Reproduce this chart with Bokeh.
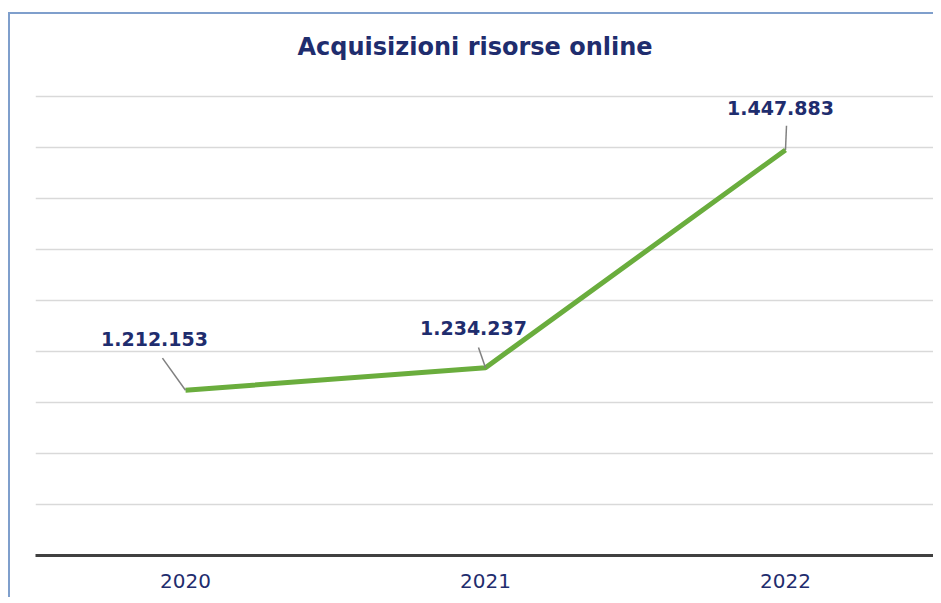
from bokeh.plotting import figure
from bokeh.models import ColumnDataSource, SingleIntervalTicker, FixedTicker, Range1d
from bokeh.embed import file_html
from bokeh.resources import INLINE
from bokeh.core.properties import value

# ---- data ----
years = ["2020", "2021", "2022"]
acquisizioni = [1212153, 1234237, 1447883]
value_labels = ["1.212.153", "1.234.237", "1.447.883"]
title_text = "Acquisizioni risorse online"

# ---- style: label / leader offsets in pixels (screen, negative = up/left) ----
label_dx = [-31, -12, -5]
label_dy = [-51, -40, -42]
leader_dx = [-23, -7, 1]
leader_dy = [-32, -20, -24]

NAVY = "#1f2d6e"
GREEN = "#6aad3d"

y_start, y_end = 1050000, 1515000
frame_w, frame_h = 898, 472
x_start, x_end = -0.5, len(years) - 0.5
px_x = (x_end - x_start) / frame_w
px_y = (y_end - y_start) / frame_h

xs = list(range(len(years)))
src = ColumnDataSource(dict(
    x=xs, y=acquisizioni, label=value_labels,
    dx=label_dx, dy=label_dy,
    x0=[x + d * px_x for x, d in zip(xs, leader_dx)],
    y0=[v - d * px_y for v, d in zip(acquisizioni, leader_dy)],
))

p = figure(width=925, height=585, output_backend="svg", toolbar_location=None,
           x_range=Range1d(x_start, x_end), y_range=Range1d(y_start, y_end),
           y_axis_location=None,
           min_border_left=25, min_border_right=0,
           min_border_top=67, min_border_bottom=44,
           background_fill_color="white", border_fill_color="white")
p.styles = {"margin-top": "12px", "margin-left": "8px",
            "border-left": "2px solid #7f9fcc",
            "border-top": "2px solid #7f9fcc"}
p.outline_line_color = None

p.title.text = title_text
p.title.align = "left"
p.title.offset = 262
p.title.vertical_align = "top"
p.title.text_font = "DejaVu Sans"
p.title.text_font_size = "24px"
p.title.text_font_style = "bold"
p.title.text_color = NAVY
p.title.standoff = 37

p.xgrid.grid_line_color = None
p.ygrid.ticker = SingleIntervalTicker(interval=50000)
p.ygrid.grid_line_color = "#d9d9d9"
p.ygrid.grid_line_width = 1.5

ax = p.xaxis[0]
ax.ticker = FixedTicker(ticks=xs)
ax.major_label_overrides = {i: y for i, y in enumerate(years)}
ax.axis_line_color = "#404040"
ax.axis_line_width = 3
ax.major_tick_line_color = None
ax.minor_tick_line_color = None
ax.major_label_standoff = 12
ax.major_label_text_font = "DejaVu Sans"
ax.major_label_text_font_size = "20px"
ax.major_label_text_color = NAVY

p.line(x="x", y="y", source=src, line_width=5, line_color=GREEN)
p.segment(x0="x0", y0="y0", x1="x", y1="y", source=src,
          line_color="#808080", line_width=1.5)
p.text(x="x", y="y", text="label", x_offset="dx", y_offset="dy", source=src,
       text_align="center", text_baseline="middle",
       text_font=value("DejaVu Sans"), text_font_size="19px",
       text_font_style="bold", text_color=NAVY)

open("out.html", "w").write(file_html(p, INLINE))
